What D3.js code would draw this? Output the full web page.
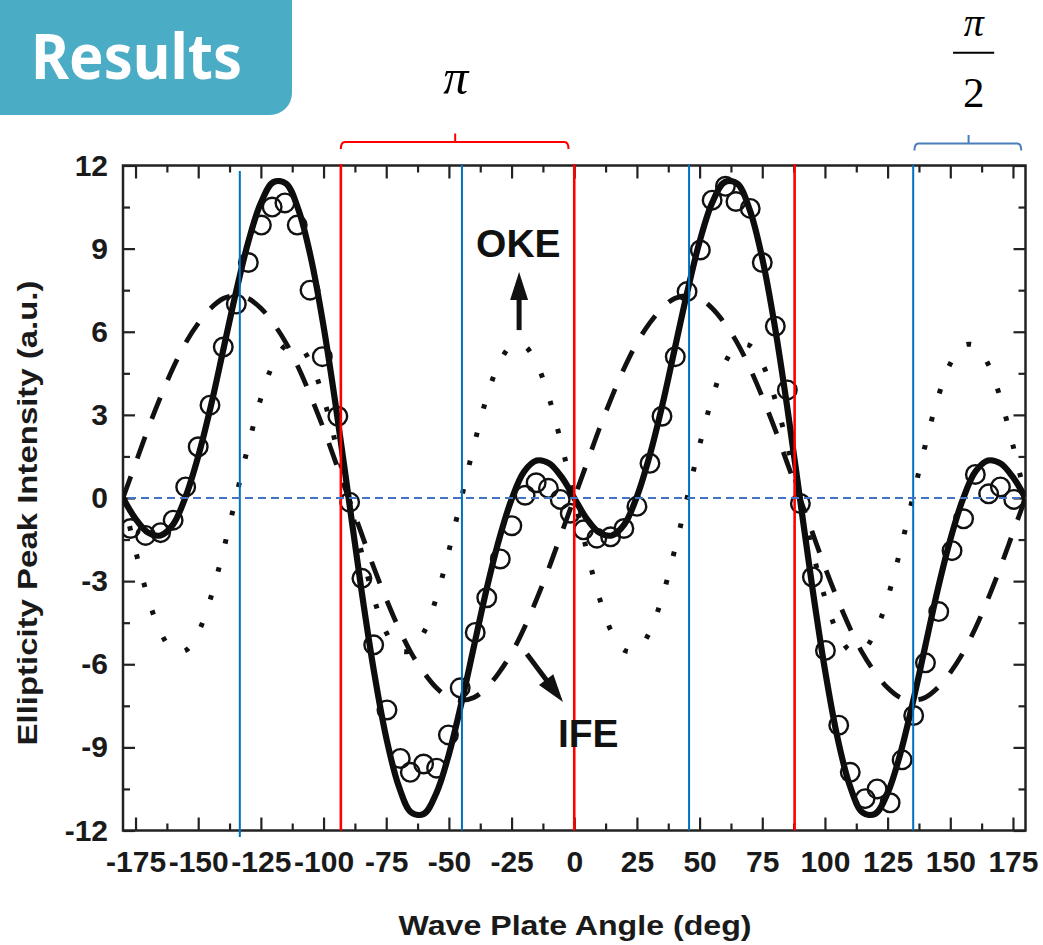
<!DOCTYPE html>
<html><head><meta charset="utf-8">
<script src="https://cdn.jsdelivr.net/npm/d3@7"></script>
<style>body{margin:0;background:#fff;} svg{display:block}</style>
</head><body>
<svg id="c" width="1043" height="945"></svg>
<script>
// ---------- data ----------
const angles = [-180,-175,-170,-165,-160,-155,-150,-145,-140,-135,-130,-125,-120,-115,-110,-105,-100,-95,-90,-85,-80,-75,-70,-65,-60,-55,-50,-45,-40,-35,-30,-25,-20,-15,-10,-5,0,
  5,10,15,20,25,30,35,40,45,50,55,60,65,70,75,80,85,90,95,100,105,110,115,120,125,130,135,140,145,150,155,160,165,170,175,180];
const fitTotal = [0.0,-0.75,-1.25,-1.35,-0.95,0.05,1.5,3.3,5.35,7.4,9.25,10.65,11.4,11.35,10.4,8.65,6.2,3.25,0.0,-3.25,-6.2,-8.65,-10.4,-11.35,-11.4,-10.65,-9.25,-7.4,-5.35,-3.3,-1.5,-0.05,0.95,1.35,1.25,0.75,0.0,
  -0.75,-1.25,-1.35,-0.95,0.05,1.5,3.3,5.35,7.4,9.25,10.65,11.4,11.35,10.4,8.65,6.2,3.25,0.0,-3.25,-6.2,-8.65,-10.4,-11.35,-11.4,-10.65,-9.25,-7.4,-5.35,-3.3,-1.5,-0.05,0.95,1.35,1.25,0.75,0.0];
const fitIFE = [0.0,1.25,2.5,3.65,4.7,5.6,6.3,6.85,7.2,7.3,7.2,6.85,6.3,5.6,4.7,3.65,2.5,1.25,0.0,-1.25,-2.5,-3.65,-4.7,-5.6,-6.3,-6.85,-7.2,-7.3,-7.2,-6.85,-6.3,-5.6,-4.7,-3.65,-2.5,-1.25,0.0,
  1.25,2.5,3.65,4.7,5.6,6.3,6.85,7.2,7.3,7.2,6.85,6.3,5.6,4.7,3.65,2.5,1.25,0.0,-1.25,-2.5,-3.65,-4.7,-5.6,-6.3,-6.85,-7.2,-7.3,-7.2,-6.85,-6.3,-5.6,-4.7,-3.65,-2.5,-1.25,0.0];
const fitOKE = [0.0,-1.9,-3.6,-4.85,-5.5,-5.5,-4.85,-3.6,-1.9,0.0,1.9,3.6,4.85,5.5,5.5,4.85,3.6,1.9,0.0,-1.9,-3.6,-4.85,-5.5,-5.5,-4.85,-3.6,-1.9,0.0,1.9,3.6,4.85,5.5,5.5,4.85,3.6,1.9,0.0,
  -1.9,-3.6,-4.85,-5.5,-5.5,-4.85,-3.6,-1.9,0.0,1.9,3.6,4.85,5.5,5.5,4.85,3.6,1.9,0.0,-1.9,-3.6,-4.85,-5.5,-5.5,-4.85,-3.6,-1.9,0.0,1.9,3.6,4.85,5.5,5.5,4.85,3.6,1.9,0.0];
const measAngles = [-177,-171,-165,-160,-155,-150,-145.3,-140,-134.8,-130,-124.8,-120.5,-115.4,-110.5,-105.4,-100.5,-94.3,-89.6,-84.7,-80,-74.7,-69.4,-65.4,-60.1,-54.9,-50.2,-45.5,-39.5,-34.9,-29.5,-24.9,-19.6,-15.2,-10.3,-5.6,-1.6,3.7,9,14.5,19.8,25,30.2,35,40.3,45,50.3,55,60.3,64.5,70.2,75,80.2,85,90.2,95,100.2,105.5,110.1,116,120.8,126,130.8,135.4,140.1,145.4,150.7,155.3,160,165.3,170,175.3];
const measValues = [-1.1,-1.35,-1.25,-0.8,0.4,1.85,3.35,5.45,7.0,8.5,9.85,10.5,10.65,9.85,7.5,5.1,2.95,-0.15,-2.9,-5.3,-7.65,-9.4,-9.9,-9.6,-9.75,-8.55,-6.85,-4.85,-3.6,-2.2,-1.0,0.1,0.55,0.35,-0.05,-0.55,-1.15,-1.45,-1.4,-1.1,-0.3,1.25,2.95,5.1,7.45,8.95,10.75,11.25,10.7,10.45,8.5,6.2,3.9,-0.2,-2.85,-5.5,-8.2,-9.9,-10.85,-10.5,-11.0,-9.45,-7.85,-5.95,-4.1,-1.9,-0.75,0.85,0.15,0.4,-0.05];
const blueLines = [-133.4,-44.8,45.8,135.2];
const redLines = [-93.1,0,87.9];
const xMajor = [-175,-150,-125,-100,-75,-50,-25,0,25,50,75,100,125,150,175];
const xMinor = [-162.5,-137.5,-112.5,-87.5,-62.5,-37.5,-12.5,12.5,37.5,62.5,87.5,112.5,137.5,162.5];
const yMajor = [-12,-9,-6,-3,0,3,6,9,12];
const yMinor = [-10.5,-7.5,-4.5,-1.5,1.5,4.5,7.5,10.5];

// ---------- drawing ----------
const svg = d3.select('#c');
const m = {left:123, right:1025.5, top:165.5, bottom:830.5};
const x = d3.scaleLinear().domain([-180,180]).range([m.left, m.right]);
const y = d3.scaleLinear().domain([-12,12]).range([m.bottom, m.top]);
const bold = "'Liberation Sans', Arial, sans-serif";
const fmt = d => String(d);

// badge
svg.append('rect').attr('x',-40).attr('y',-40).attr('width',332).attr('height',155)
  .attr('rx',22).attr('fill','#4BACC6');
svg.append('text').attr('x',31).attr('y',79).attr('fill','#fff')
  .attr('font-family',"'Noto Sans', 'Open Sans', sans-serif").attr('font-weight',700)
  .attr('font-size',62).attr('textLength',211).attr('lengthAdjust','spacingAndGlyphs').text('Results');

// clip
svg.append('clipPath').attr('id','clip').append('rect')
  .attr('x',m.left).attr('y',m.top).attr('width',m.right-m.left).attr('height',m.bottom-m.top);

const g = svg.append('g');
function styleAxis(sel){
  sel.select('.domain').remove();
  sel.selectAll('.tick line').attr('stroke','#222').attr('stroke-width',2.2);
  sel.selectAll('text').attr('font-family',bold).attr('font-weight',700).attr('font-size',30).attr('fill','#1a1a1a');
}
const none = () => '';
g.append('g').attr('transform',`translate(0,${m.bottom})`)
  .call(d3.axisBottom(x).tickValues(xMajor).tickSize(-13).tickPadding(20).tickFormat(fmt)).call(styleAxis);
g.append('g').attr('transform',`translate(0,${m.bottom})`)
  .call(d3.axisBottom(x).tickValues(xMinor).tickSize(-7).tickFormat(none)).call(styleAxis);
g.append('g').attr('transform',`translate(0,${m.top})`)
  .call(d3.axisTop(x).tickValues(xMajor).tickSize(-13).tickFormat(none)).call(styleAxis);
g.append('g').attr('transform',`translate(0,${m.top})`)
  .call(d3.axisTop(x).tickValues(xMinor).tickSize(-7).tickFormat(none)).call(styleAxis);
g.append('g').attr('transform',`translate(${m.left},0)`)
  .call(d3.axisLeft(y).tickValues(yMajor).tickSize(-12).tickPadding(15).tickFormat(fmt)).call(styleAxis);
g.append('g').attr('transform',`translate(${m.left},0)`)
  .call(d3.axisLeft(y).tickValues(yMinor).tickSize(-7).tickFormat(none)).call(styleAxis);
g.append('g').attr('transform',`translate(${m.right},0)`)
  .call(d3.axisRight(y).tickValues(yMajor).tickSize(-12).tickFormat(none)).call(styleAxis);
g.append('g').attr('transform',`translate(${m.right},0)`)
  .call(d3.axisRight(y).tickValues(yMinor).tickSize(-7).tickFormat(none)).call(styleAxis);

// frame
svg.append('rect').attr('x',m.left).attr('y',m.top).attr('width',m.right-m.left).attr('height',m.bottom-m.top)
  .attr('fill','none').attr('stroke','#222').attr('stroke-width',2.5);

// curves
const plot = svg.append('g').attr('clip-path','url(#clip)');
const line = vals => d3.line().x((d,i)=>x(angles[i])).y(d=>y(d)).curve(d3.curveCatmullRom.alpha(0.5))(vals);
plot.append('path').attr('d',line(fitOKE)).attr('fill','none').attr('stroke','#111')
  .attr('stroke-width',5).attr('stroke-dasharray','4.5,24.5');
plot.append('path').attr('d',line(fitIFE)).attr('fill','none').attr('stroke','#111')
  .attr('stroke-width',4.8).attr('stroke-dasharray','23,19');
plot.append('path').attr('d',line(fitTotal)).attr('fill','none').attr('stroke','#0d0d0d')
  .attr('stroke-width',6.2);
plot.selectAll('circle.m').data(measAngles).join('circle').attr('class','m')
  .attr('cx',d=>x(d)).attr('cy',(d,i)=>y(measValues[i])).attr('r',9.3)
  .attr('fill','none').attr('stroke','#111').attr('stroke-width',2.4);

// vertical reference lines
svg.selectAll('line.b').data(blueLines).join('line').attr('class','b')
  .attr('x1',d=>x(d)).attr('x2',d=>x(d))
  .attr('y1',(d,i)=> i===0 ? 171 : m.top-1).attr('y2',(d,i)=> i===0 ? 837 : m.bottom)
  .attr('stroke','#0070C0').attr('stroke-width',2);
svg.selectAll('line.r').data(redLines).join('line').attr('class','r')
  .attr('x1',d=>x(d)).attr('x2',d=>x(d)).attr('y1',m.top-1.5).attr('y2',m.bottom)
  .attr('stroke','#FF0000').attr('stroke-width',2.6);
// zero line
svg.append('line').attr('x1',x(-178)).attr('x2',x(180)).attr('y1',y(0)).attr('y2',y(0))
  .attr('stroke','#4472C4').attr('stroke-width',1.8).attr('stroke-dasharray','8,5');

// brackets
function bracket(a0,a1,ac,yb,color){
  const x0=x(a0),x1=x(a1),xc=x(ac);
  svg.append('path').attr('d',`M${x0},${yb+7}Q${x0},${yb} ${x0+4},${yb}L${x1-4},${yb}Q${x1},${yb} ${x1},${yb+7}M${xc},${yb}L${xc},${yb-8.5}`)
    .attr('fill','none').attr('stroke',color).attr('stroke-width',2);
}
bracket(-93.1,-2.3,-47.5,142,'#FF0000');
bracket(135.7,178.3,157.3,143.5,'#4A7EBB');

// pi labels
const serif = "'Liberation Serif','DejaVu Serif',serif";
svg.append('text').attr('x',x(-47.3)).attr('y',94).attr('text-anchor','middle')
  .attr('font-family',serif).attr('font-style','italic').attr('font-size',50).text('π');
svg.append('text').attr('x',x(159.4)).attr('y',36).attr('text-anchor','middle')
  .attr('font-family',serif).attr('font-style','italic').attr('font-size',40).text('π');
svg.append('line').attr('x1',x(151.1)).attr('x2',x(167.5)).attr('y1',52.7).attr('y2',52.7)
  .attr('stroke','#000').attr('stroke-width',2);
svg.append('text').attr('x',x(159.4)).attr('y',107).attr('text-anchor','middle')
  .attr('font-family',serif).attr('font-size',43).text('2');

// annotations
svg.append('text').attr('x',x(-22.3)).attr('y',y(8.7)).attr('text-anchor','middle')
  .attr('font-family',bold).attr('font-weight',700).attr('font-size',39).attr('fill','#111').text('OKE');
svg.append('text').attr('x',x(-6.5)).attr('y',y(-9.0))
  .attr('font-family',bold).attr('font-weight',700).attr('font-size',39).attr('fill','#111').text('IFE');
function arrow(a0,v0,a1,v1){
  const X0=x(a0),Y0=y(v0),X1=x(a1),Y1=y(v1);
  const L=Math.hypot(X1-X0,Y1-Y0), ux=(X1-X0)/L, uy=(Y1-Y0)/L;
  const hl=28, hw=9;
  const bx=X1-ux*hl, by=Y1-uy*hl;
  svg.append('line').attr('x1',X0).attr('y1',Y0).attr('x2',bx+ux*2).attr('y2',by+uy*2)
    .attr('stroke','#111').attr('stroke-width',5);
  svg.append('path').attr('d',`M${X1},${Y1}L${bx-uy*hw},${by+ux*hw}L${bx+uy*hw},${by-ux*hw}Z`).attr('fill','#111');
}
arrow(-22.0,6.06,-22.0,8.16);
arrow(-18.9,-5.63,-4.5,-7.36);

// axis titles
svg.append('text').attr('x',575).attr('y',935).attr('text-anchor','middle')
  .attr('font-family',bold).attr('font-weight',700).attr('font-size',28).attr('fill','#1a1a1a')
  .attr('textLength',353).attr('lengthAdjust','spacingAndGlyphs').text('Wave Plate Angle (deg)');
svg.append('text').attr('transform','translate(37,513) rotate(-90)').attr('text-anchor','middle')
  .attr('font-family',bold).attr('font-weight',700).attr('font-size',28).attr('fill','#1a1a1a')
  .attr('textLength',465).attr('lengthAdjust','spacingAndGlyphs').text('Ellipticity Peak Intensity (a.u.)');
</script>
</body></html>
